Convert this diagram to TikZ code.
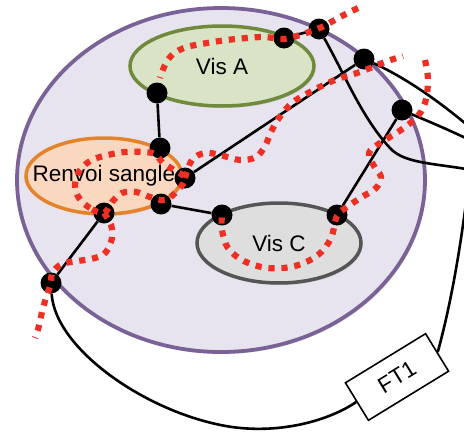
\documentclass[tikz,border=0pt]{standalone}
\usepackage{fontspec}
\setmainfont{Liberation Sans}
\usetikzlibrary{shapes.geometric, shadows}
\definecolor{zonefill}{HTML}{E8E4EF}
\definecolor{zoneline}{HTML}{7A6296}
\definecolor{visafill}{HTML}{D9E4C6}
\definecolor{visaline}{HTML}{6F8A3C}
\definecolor{renvoifill}{HTML}{FAD8C0}
\definecolor{renvoiline}{HTML}{E3842C}
\definecolor{viscfill}{HTML}{DEDEDE}
\definecolor{viscline}{HTML}{555555}
\definecolor{cutred}{HTML}{EE3024}
\tikzset{
  zone/.style={
    ellipse, draw=zoneline, fill=zonefill, line width=3.8pt,
    inner sep=0pt, drop shadow={opacity=0.2, shadow xshift=1.5pt,
    shadow yshift=-2pt}
  },
  part/.style={
    ellipse, draw=#1line, fill=#1fill, line width=3.5pt,
    inner sep=0pt, drop shadow={opacity=0.25, shadow xshift=1.5pt,
    shadow yshift=-2pt}
  },
  dot/.style={circle, fill=black, inner sep=0pt, minimum size=21pt},
  wire/.style={line width=2.6pt},
  cut/.style={draw=cutred, line width=6.2pt, dash pattern=on 6.2pt off 6.8pt},
  ftbox/.style={
    rectangle, draw, fill=white, line width=1.6pt,
    minimum width=94pt, minimum height=44pt
  }
}

\begin{document}
\begin{tikzpicture}[x=1pt, y=-1pt, font=\fontsize{22.5}{26}\selectfont]
        \useasboundingbox (0,0) rectangle (464,434);
        \clip (0,0) rectangle (464,434);
        % Zone
        \node[zone, minimum width=408pt, minimum height=344pt]
          (zone) at (221,180) {};
        % Pieces
        \node[part=visa, minimum width=184pt, minimum height=80pt,
          label={center:Vis A}] (visA) at (222,66) {};
        \node[part=renvoi, minimum width=156pt, minimum height=76pt,
          label={center:Renvoi sangle}] (renvoi) at (104,176) {};
        \node[part=visc, minimum width=164pt, minimum height=80pt,
          label={center:Vis C}] (visC) at (279,243) {};
        % FT1
        \node[ftbox, rotate=31.5] (ft) at (397,377) {FT1};
        % Points
        \node[dot] (p1) at (157,93) {};
        \node[dot] (p2) at (160,148) {};
        \node[dot] (p3) at (185,178) {};
        \node[dot] (p4) at (161,204) {};
        \node[dot] (p5) at (104,213) {};
        \node[dot] (p6) at (51,283) {};
        \node[dot] (p7) at (222,215) {};
        \node[dot] (p8) at (337,215) {};
        \node[dot] (p9) at (284,38) {};
        \node[dot] (p10) at (319,29) {};
        \node[dot] (p11) at (364,59) {};
        \node[dot] (p12) at (402,110) {};
        \coordinate (outA) at (482,138);
        \coordinate (outB) at (482,146);
        \coordinate (outC) at (482,172);
        \coordinate (outD) at (470,170);
        % Liaisons
        \draw[wire] (p1) -- (p2);
        \draw[wire] (p3) -- (p11);
        \draw[wire] (p4) -- (p7);
        \draw[wire] (p5) -- (p6);
        \draw[wire] (p8) -- (p12);
        \draw[wire] (p9) -- (p10);
        \draw[wire] (p10) .. controls (345,75) and (362,118) .. (390,148)
          .. controls (405,165) and (440,163) .. (outC);
        \draw[wire] (p11) .. controls (400,75) and (440,100) .. (outA);
        \draw[wire] (p12) .. controls (425,120) and (450,130) .. (outB);
        \draw[wire] (ft.east) .. controls (452,300) and (462,240) .. (outD);
        \draw[wire] (p6) .. controls (55,350) and (150,415) .. (232,427)
          .. controls (282,434) and (330,420) .. (ft.west);
        % Coupe
        \draw[cut] plot[smooth, tension=0.6] coordinates {
          (358,8) (340,17) (322,27) (303,34) (284,39) (265,37) (247,38)
          (227,40) (207,43) (187,47) (173,54) (165,65) (160,78)};
        \draw[cut] plot[smooth cycle, tension=0.6] coordinates {
          (104,213) (90,208) (79,198) (75,185) (80,170) (92,160) (108,155)
          (125,152) (143,152) (155,154) (163,163) (174,170) (185,178)
          (178,190) (165,200) (150,197) (136,192) (122,193) (112,202)};
        \draw[cut] plot[smooth, tension=0.6] coordinates {
          (104,213) (111,225) (112,238) (106,252) (95,258) (78,261)
          (62,264) (52,273) (51,283) (46,298) (42,312) (39,326) (35,338)};
        \draw[cut] plot[smooth, tension=0.6] coordinates {
          (185,178) (192,160) (205,153) (220,155) (240,160) (256,157)
          (265,146) (271,132) (279,118) (292,103) (310,92) (335,80)
          (360,72) (385,62) (403,56)};
        \draw[cut] plot[smooth, tension=0.6] coordinates {
          (425,60) (428,80) (425,103) (416,118) (398,132) (380,143)
          (369,153) (374,166) (381,177) (376,188) (362,197) (347,207)
          (337,216) (331,238) (318,255) (295,266) (268,268) (244,261)
          (228,248) (222,230) (222,215)};
      \end{tikzpicture}
\end{document}
